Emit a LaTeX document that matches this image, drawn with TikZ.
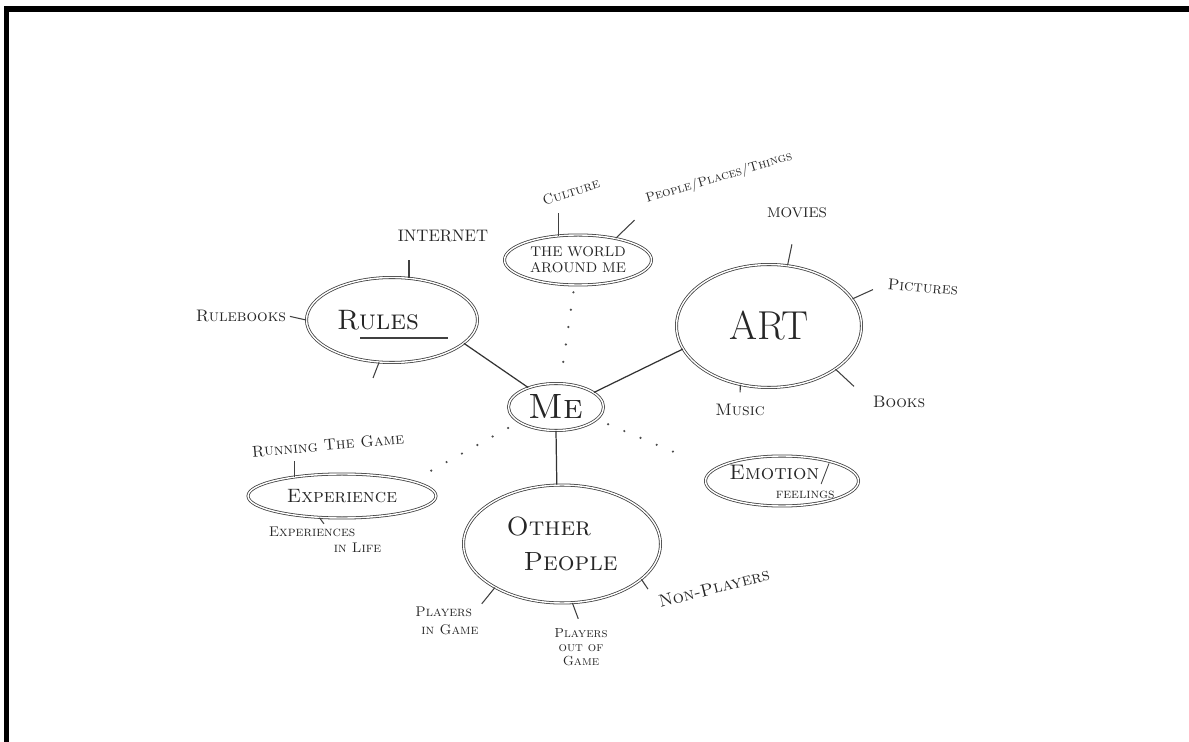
\documentclass[tikz,border=0pt]{standalone}
\usepackage{fontspec}
\usetikzlibrary{shapes.geometric}
\newcommand{\fsz}[1]{\fontsize{#1}{#1}\selectfont}

\begin{document}
\begin{tikzpicture}[x=0.02cm,y=-0.02cm,
  bubble/.style={ellipse,draw=black!75,line width=0.45pt,double=white,double distance=0.8pt,inner sep=0pt,text=black!85},
  lbl/.style={text=black!85,inner sep=1pt,font=\scshape\fsz{9.5}},
  tick/.style={draw=black!75,line width=0.6pt},
  link/.style={draw=black!80,line width=0.7pt},
  dotline/.style={draw=black!70,line width=1.4pt,line cap=round,dash pattern=on 0pt off 10pt}]

\useasboundingbox (0,0) rectangle (1189,742);
\draw[line width=3pt] (6.5,742) -- (6.5,9) -- (1189,9);

\node[bubble,minimum width=1.9cm,minimum height=0.94cm,font=\scshape\fsz{20}] (me) at (556,407) {Me};
\node[bubble,minimum width=3.42cm,minimum height=1.7cm,font=\scshape\fsz{16}] (rules) at (392,320) {Rules\hspace*{0.56cm}};
\node[bubble,minimum width=2.94cm,minimum height=1cm,font=\fsz{8},align=center] (world) at (578,260) {THE WORLD\\[1pt]AROUND ME};
\node[bubble,minimum width=3.7cm,minimum height=2.46cm,font=\fsz{23}] (art) at (769,326) {ART};
\node[bubble,minimum width=3.06cm,minimum height=0.84cm,font=\scshape\fsz{12},align=left] (emotion) at (782,481) {Emotion/\\[-1pt]\hspace*{2.2em}{\fsz{8}feelings}};
\node[bubble,minimum width=3.76cm,minimum height=0.88cm,font=\scshape\fsz{11}] (exper) at (342,496) {Experience};
\node[bubble,minimum width=3.94cm,minimum height=2.36cm,font=\scshape\fsz{15},align=left] (other) at (562,544) {Other\\[5pt]\hspace*{0.34cm}People};

\node[lbl,font=\fsz{9.5}] (internet) at (443,236) {INTERNET};
\node[lbl] (rulebooks) at (241,316) {Rulebooks};
\node[lbl,rotate=18,font=\scshape\fsz{8}] (culture) at (571,192) {Culture};
\node[lbl,rotate=16.5,font=\scshape\fsz{7.5}] (ppt) at (719,178) {People/Places/Things};
\node[lbl,font=\fsz{8}] (movies) at (797,213) {MOVIES};
\node[lbl,rotate=-5,font=\scshape\fsz{9}] (pictures) at (923,287) {Pictures};
\node[lbl] (books) at (899,402) {Books};
\node[lbl] (music) at (740,410) {Music};
\node[lbl,rotate=5,font=\scshape\fsz{9}] (running) at (328,445) {Running The Game};
\node[lbl,align=left,font=\scshape\fsz{8}] (exlife) at (325,540) {Experiences\\[1pt]\hspace*{1.3cm}in Life};
\node[lbl,align=left,font=\scshape\fsz{8}] (pig) at (447,621) {Players\\[2pt]\hspace*{0.12cm}in Game};
\node[lbl,align=center,font=\scshape\fsz{7.5}] (poog) at (581,647) {Players\\[0.5pt]out of\\[0.5pt]Game};
\node[lbl,rotate=14,font=\scshape\fsz{10}] (nonpl) at (714,588) {Non-Players};

\coordinate (rstub) at (373,378);

\draw[link] (rules.-18) -- (me.145);
\draw[link] (me.21) -- (art.195);
\draw[link] (me.south) -- (other.95);
\draw[dotline,shorten <=4pt,shorten >=3pt] (world.262) -- (me.80);
\draw[dotline,shorten <=7pt,shorten >=19pt] (me.343) -- (emotion.170);
\draw[dotline,shorten <=7pt,shorten >=8pt] (me.202) -- (exper.12);

\draw[tick] ([shift={(-32,18)}]rules.center) -- ++(88,0);
\draw[tick,shorten >=9pt] (rules.68) -- (rules.68 |- internet.south);
\draw[tick,shorten <=1pt] (rulebooks.east) -- (rules.west);
\draw[tick] (rules.253) -- (rstub);
\draw[tick,shorten >=8pt] (world.129) -- (world.129 |- culture.south);
\draw[tick,shorten >=9.5pt] (world.30) -- (ppt.south west);
\draw[tick,shorten >=14pt] (art.73) -- (movies.south);
\draw[tick,shorten >=8pt] (art.18) -- (pictures.west);
\draw[tick,shorten >=13pt] (art.-33) -- (books.west);
\draw[tick,shorten >=5.5pt] (art.244) -- (music.north);
\draw[tick,shorten >=4.5pt] (exper.158) -- (exper.158 |- running.south);
\draw[tick,shorten >=1pt] (exper.224) -- (exlife.north);
\draw[tick,shorten >=1pt] (other.213) -- (pig.north east);
\draw[tick,shorten >=4.5pt] (other.280) -- (poog.north);
\draw[tick,shorten >=9pt] (other.336) -- (nonpl.west);
\end{tikzpicture}
\end{document}
